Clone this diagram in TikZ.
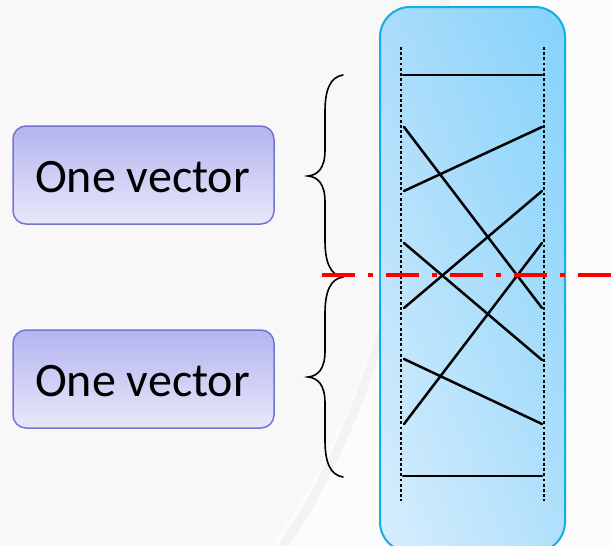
\documentclass[tikz,border=0pt]{standalone}
\usepackage{fontspec}
\setmainfont{Carlito}
\usetikzlibrary{shadings}
\begin{document}
\begin{tikzpicture}[x=1pt,y=-1pt,
  vecbox/.style={rounded corners=13pt, draw=boxedge, line width=1.5pt,
    top color=boxtop, bottom color=boxbot},
  vectext/.style={font=\fontsize{48}{50}\selectfont, text=black},
  rail/.style={line width=2.8pt, dash pattern=on 2.8pt off 2.4pt},
  wire/.style={line width=2.5pt, line cap=round},
  bracepath/.style={line width=1.6pt, line cap=round},
  cutline/.style={line width=4pt, draw=cutred, dash pattern=on 33pt off 13pt on 5pt off 13pt}]
\definecolor{boxedge}{HTML}{7474D4}
\definecolor{boxtop}{HTML}{B4B4F0}
\definecolor{boxbot}{HTML}{E8E8FA}
\definecolor{cutred}{HTML}{FF0000}
\definecolor{paneledge}{HTML}{12AEE8}
\definecolor{panelLL}{HTML}{D8EEFD}
\definecolor{panelLR}{HTML}{B0E0FB}
\definecolor{panelUL}{HTML}{AADCFA}
\definecolor{panelUR}{HTML}{84D2FB}
\definecolor{bgfill}{HTML}{F8F8F8}
\definecolor{bgband}{HTML}{F3F3F3}
\definecolor{bglight}{HTML}{FCFCFC}

% page and faint background sweep
\useasboundingbox (0,0) rectangle (611,546);
\clip (0,0) rectangle (611,546);
\fill[bgfill] (0,0) rectangle (611,546);
\fill[bglight] (440,0) .. controls (420,200) and (370,420) .. (270,546) -- (611,546) -- (611,0) -- cycle;
\draw[bgband, line width=9pt] (446,-10) .. controls (426,200) and (376,420) .. (276,556);

% the blue panel
\shade[rounded corners=30pt, lower left=panelLL, lower right=panelLR,
  upper left=panelUL, upper right=panelUR]
  (380,7) rectangle (565,552);
\draw[paneledge, line width=2pt, rounded corners=30pt] (380,7) rectangle (565,552);

% dotted rails
\coordinate (railLtop) at (401,47);
\coordinate (railLbot) at (401,501);
\coordinate (railRtop) at (544,47);
\coordinate (railRbot) at (544,501);
\draw[rail] (railLtop) -- (railLbot);
\draw[rail] (railRtop) -- (railRbot);

% wire end points on both rails
\coordinate (La) at (403,75);  \coordinate (Ra) at (542,75);
\coordinate (Lb) at (404,127); \coordinate (Rb) at (542,127);
\coordinate (Lc) at (404,191); \coordinate (Rc) at (542,191);
\coordinate (Ld) at (404,243); \coordinate (Rd) at (542,243);
\coordinate (Le) at (404,308); \coordinate (Re) at (542,308);
\coordinate (Lf) at (404,359); \coordinate (Rf) at (542,360);
\coordinate (Lg) at (404,424); \coordinate (Rg) at (542,424);
\coordinate (Lh) at (403,476); \coordinate (Rh) at (542,476);

% wires
\draw[wire] (La) -- (Ra);
\draw[wire] (Lb) -- (Re);
\draw[wire] (Lc) -- (Rb);
\draw[wire] (Ld) -- (Rf);
\draw[wire] (Le) -- (Rc);
\draw[wire] (Lf) -- (Rg);
\draw[wire] (Lg) -- (Rd);
\draw[wire] (Lh) -- (Rh);

% braces
\coordinate (braceTop) at (343,75);
\coordinate (braceMid) at (343,277);
\coordinate (braceBot) at (343,477);
\coordinate (tipUpper) at (308,176);
\coordinate (tipLower) at (308,377);
\draw[bracepath] (braceTop) .. controls (330,77) and (325,90) .. (325,112)
  -- (325,150) .. controls (325,168) and (318,175) .. (tipUpper)
  .. controls (318,177) and (325,184) .. (325,202)
  -- (325,240) .. controls (325,262) and (330,275) .. (braceMid);
\draw[bracepath] (braceMid) .. controls (330,279) and (325,292) .. (325,314)
  -- (325,351) .. controls (325,369) and (318,376) .. (tipLower)
  .. controls (318,378) and (325,385) .. (325,403)
  -- (325,440) .. controls (325,462) and (330,475) .. (braceBot);

% the two labelled boxes
\path[vecbox] (13,126) rectangle (274,224);
\node[vectext] (vecA) at (142.5,177) {One vector};
\path[vecbox] (13,330) rectangle (274,428);
\node[vectext] (vecB) at (142.5,381) {One vector};

% cut line
\coordinate (cutStart) at (322,275);
\coordinate (cutEnd) at (611,275);
\draw[cutline] (cutStart) -- (cutEnd);
\end{tikzpicture}
\end{document}
